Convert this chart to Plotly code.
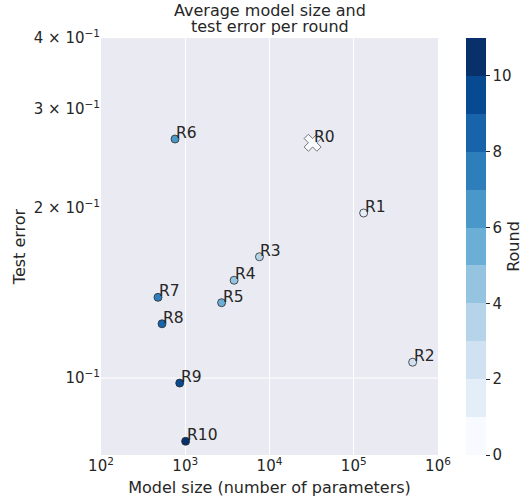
import math
import plotly.graph_objects as go

# ---- data ----
rounds = [0, 1, 2, 3, 4, 5, 6, 7, 8, 9, 10]
labels = ["R0", "R1", "R2", "R3", "R4", "R5", "R6", "R7", "R8", "R9", "R10"]
model_size = [32500, 131000, 500000, 7600, 3800, 2700, 757, 475, 530, 860, 1010]
test_error = [0.261, 0.196, 0.1067, 0.164, 0.149, 0.136, 0.265, 0.139, 0.1248, 0.098, 0.0773]

# discrete Blues palette (11 levels)
blues = ["#f7fbff", "#e3eef9", "#d0e1f2", "#b6d4e9", "#94c4df", "#6baed6",
         "#4a98c9", "#2e7ebc", "#1764ab", "#084a92", "#08306b"]

title_lines = ["Average model size and", "test error per round"]
x_ticks = [1e2, 1e3, 1e4, 1e5, 1e6]
x_ticktext = ["10<sup>2</sup>", "10<sup>3</sup>", "10<sup>4</sup>", "10<sup>5</sup>", "10<sup>6</sup>"]
y_ticks = [0.1, 0.2, 0.3, 0.4]
y_ticktext = ["10<sup>−1</sup>", "2 × 10<sup>−1</sup>", "3 × 10<sup>−1</sup>", "4 × 10<sup>−1</sup>"]
cbar_ticks = [0, 2, 4, 6, 8, 10]

TXT = "#262626"
FONT = "DejaVu Sans"
H = 503

n = len(blues)
colorscale = []
for k, c in enumerate(blues):
    colorscale.append([k / n, c])
    colorscale.append([(k + 1) / n, c])

fig = go.Figure()

# circle markers for rounds >= 1
fig.add_trace(go.Scatter(
    x=model_size[1:], y=test_error[1:], mode="markers",
    marker=dict(size=8, color=[blues[r] for r in rounds[1:]],
                line=dict(color="#2b2b2b", width=0.8)),
    showlegend=False, hoverinfo="skip"))

# R0 as X marker
fig.add_trace(go.Scatter(
    x=model_size[:1], y=test_error[:1], mode="markers",
    marker=dict(size=15, symbol="x", color=blues[0],
                line=dict(color="#555555", width=0.8)),
    showlegend=False, hoverinfo="skip"))

# colorbar holder
fig.add_trace(go.Scatter(
    x=[None], y=[None], mode="markers",
    marker=dict(color=[0], cmin=0, cmax=11, colorscale=colorscale, showscale=True,
                colorbar=dict(
                    thickness=20, len=1, lenmode="fraction", y=0, yanchor="bottom",
                    x=1.083, xanchor="left", xpad=0, ypad=0, outlinewidth=0,
                    tickvals=cbar_ticks, ticks="outside", ticklen=4, tickcolor=TXT,
                    tickfont=dict(size=15, color=TXT, family=FONT),
                    title=dict(text="Round", side="right",
                               font=dict(size=16, color=TXT, family=FONT)))),
    showlegend=False, hoverinfo="skip"))

for lab, xv, yv in zip(labels, model_size, test_error):
    fig.add_annotation(x=math.log10(xv), y=math.log10(yv), text=lab, showarrow=False,
                       xanchor="left", yanchor="bottom", xshift=-1, yshift=-5,
                       font=dict(size=15.5, color=TXT, family=FONT))

# two-line title with tight line spacing
for i, line in enumerate(title_lines):
    fig.add_annotation(xref="paper", yref="paper", x=0.5, y=1, yshift=28 - 16.5 * i,
                       text=line, showarrow=False, xanchor="center", yanchor="middle",
                       borderpad=0, font=dict(size=16, color=TXT, family=FONT))

fig.add_shape(type="line", xref="paper", x0=0, x1=1, yref="y", y0=0.1, y1=0.1,
              line=dict(color="white", width=1), layer="below")

fig.update_layout(
    width=530, height=H,
    margin=dict(l=101, r=92, t=38, b=48, autoexpand=False),
    paper_bgcolor="white", plot_bgcolor="#EAEAF2",
    font=dict(family=FONT, color=TXT),
    xaxis=dict(type="log", range=[2, 6], tickvals=x_ticks, ticktext=x_ticktext,
               showgrid=True, gridcolor="white", gridwidth=1, zeroline=False,
               showline=False, ticks="", automargin=False, tickfont=dict(size=15, color=TXT),
               title=dict(text="Model size (number of parameters)", standoff=7,
                          font=dict(size=16, color=TXT))),
    yaxis=dict(type="log", range=[math.log10(0.0731), math.log10(0.4)],
               tickvals=y_ticks, ticktext=y_ticktext, showgrid=False, zeroline=False,
               showline=False, ticks="", automargin=False, tickfont=dict(size=15, color=TXT),
               title=dict(text="Test error", standoff=4, font=dict(size=16, color=TXT))),
)

fig.write_html("out.html", config={"displayModeBar": False},
               post_script="document.body.style.margin='0';")
